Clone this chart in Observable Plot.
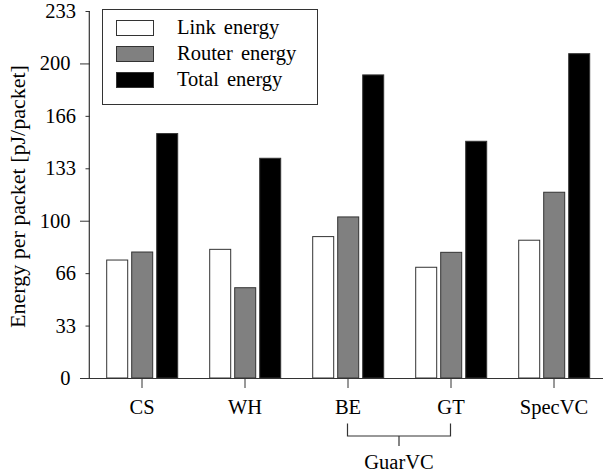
<!DOCTYPE html>
<html>
<head>
<meta charset="utf-8">
<script src="https://cdn.jsdelivr.net/npm/d3@7"></script>
<script src="https://cdn.jsdelivr.net/npm/@observablehq/plot@0.6"></script>
<style>
  body { margin: 0; background: #fff; overflow: hidden; }
  #wrap { position: relative; width: 603px; height: 474px; font-family: "Liberation Serif", "Times New Roman", serif; }
  .legend { position: absolute; left: 102px; top: 9px; width: 216px; height: 96px; border: 1px solid #333; background: #fff; box-sizing: border-box; }
  .legend .row { position: absolute; left: 0; height: 20px; }
  .legend .sw { position: absolute; left: 13px; width: 38px; height: 16px; border: 1px solid #333; box-sizing: border-box; }
  .legend .lab { position: absolute; left: 74px; top: -4px; font-size: 20.5px; white-space: nowrap; word-spacing: 3px; color: #000; }
</style>
</head>
<body>
<div id="wrap"></div>
<script>
const categories = ["CS", "WH", "BE", "GT", "SpecVC"];
const series = ["Link energy", "Router energy", "Total energy"];
const linkEnergy = [75.0, 81.8, 89.9, 70.4, 87.6];
const routerEnergy = [80.1, 57.4, 102.4, 79.9, 118.1];
const totalEnergy = [155.4, 139.7, 192.7, 150.5, 206.2];
const minorTicks = [100 / 3, 200 / 3, 400 / 3, 500 / 3, 700 / 3];
const majorTicks = [0, 100, 200];
const yMax = 700 / 3;
const yLabel = "Energy per packet [pJ/packet]";
const groupLabel = "GuarVC";
const groupMembers = ["BE", "GT"];
const fills = ["#ffffff", "#808080", "#000000"];

const values = [linkEnergy, routerEnergy, totalEnergy];
const data = categories.flatMap((c, i) => series.map((s, j) => ({cat: c, series: s, value: values[j][i]})));

const font = "'Liberation Serif', 'Times New Roman', serif";
const plot = Plot.plot({
  width: 603,
  height: 474,
  marginLeft: 89.3,
  marginRight: -3.3,
  marginTop: 11,
  marginBottom: 96,
  style: {fontFamily: font, fontSize: "20.5px", background: "white", color: "#000", overflow: "visible"},
  fx: {domain: categories, padding: 0, label: null, axis: null},
  x: {domain: series, paddingInner: 0.178, paddingOuter: 0.585, axis: null},
  y: {domain: [0, yMax], axis: null},
  color: {domain: series, range: fills},
  marks: [
    Plot.barY(data, {fx: "cat", x: "series", y: "value", fill: "series", stroke: "#333", strokeWidth: 1}),
    Plot.ruleY([0], {stroke: "#333", strokeWidth: 1.2}),
    Plot.axisY(minorTicks, {tickSize: 4.5, tickPadding: 10, tickFormat: d => String(Math.floor(d + 1e-9)), label: null, stroke: "#333", fill: "#000"}),
    Plot.axisY(majorTicks, {tickSize: 10, tickPadding: 10, tickFormat: d => String(d), label: null, stroke: "#333", fill: "#000"}),
    Plot.axisFx({anchor: "bottom", tickSize: 10, tickPadding: 11, label: null, stroke: "#333", fill: "#000"})
  ]
});

document.getElementById("wrap").appendChild(plot);

// y axis line and label, bracket for grouped categories
const svg = d3.select(plot);
const ys = plot.scale("y");
const fxs = plot.scale("fx");
const x0 = 89.3;
svg.append("line")
  .attr("x1", x0).attr("x2", x0)
  .attr("y1", ys.apply(yMax)).attr("y2", ys.apply(0))
  .attr("stroke", "#333").attr("stroke-width", 1.2);
svg.append("text")
  .attr("transform", `translate(25,${(ys.apply(0) + ys.apply(yMax)) / 2 + 2}) rotate(-90)`)
  .attr("text-anchor", "middle")
  .attr("font-family", font).attr("font-size", "22px").attr("fill", "#000")
  .text(yLabel);

const cx = c => fxs.apply(c) + fxs.bandwidth / 2;
const a = cx(groupMembers[0]), b = cx(groupMembers[1]);
const base = ys.apply(0);
const g = svg.append("g").attr("stroke", "#333").attr("stroke-width", 1.2).attr("fill", "none");
g.append("path").attr("d", `M${a},${base + 45.5}V${base + 58}H${b}V${base + 45.5}`);
g.append("line").attr("x1", (a + b) / 2).attr("x2", (a + b) / 2).attr("y1", base + 58).attr("y2", base + 68);
svg.append("text")
  .attr("x", (a + b) / 2).attr("y", base + 90.5)
  .attr("text-anchor", "middle")
  .attr("font-family", font).attr("font-size", "20.5px").attr("fill", "#000")
  .text(groupLabel);

// legend
const legend = d3.select("#wrap").append("div").attr("class", "legend");
const rowTops = [9.5, 36, 62];
series.forEach((s, i) => {
  const row = legend.append("div").attr("class", "row").style("top", rowTops[i] + "px");
  row.append("div").attr("class", "sw").style("background", fills[i]);
  row.append("div").attr("class", "lab").text(s);
});
</script>
</body>
</html>
